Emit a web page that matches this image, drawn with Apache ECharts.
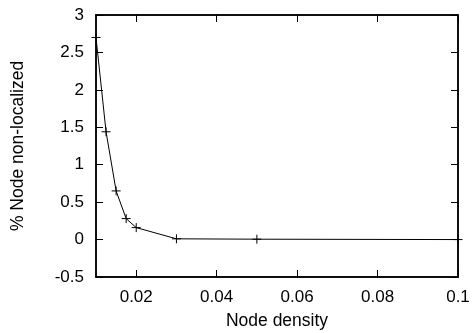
<!DOCTYPE html>
<html><head><meta charset="utf-8">
<script src="https://cdn.jsdelivr.net/npm/echarts@6/dist/echarts.min.js"></script>
<style>html,body{margin:0;padding:0;background:#fff}#c{width:473px;height:333px}</style>
</head><body><div id="c"></div>
<script>
const xValues = [0.01, 0.0125, 0.015, 0.0175, 0.02, 0.03, 0.05, 0.1];
const yValues = [2.70, 1.44, 0.65, 0.28, 0.16, 0.01, 0.005, 0.0];
const xTicks = [0.02, 0.04, 0.06, 0.08, 0.1];
const xName = 'Node density';
const yName = '% Node non-localized';

const chart = echarts.init(document.getElementById('c'), null, {renderer: 'canvas'});
const tickFont = {fontFamily: 'Liberation Sans, Arial, sans-serif', fontSize: 17, color: '#000'};
const nameFont = {fontFamily: 'Liberation Sans, Arial, sans-serif', fontSize: 17.5, color: '#000'};
const axisLine = {show: true, onZero: false, lineStyle: {color: '#000', width: 1.5}};
chart.setOption({
  animation: false,
  grid: {left: 96, top: 15, right: 15, bottom: 56, show: true, borderColor: '#000', borderWidth: 1.5, containLabel: false, outerBoundsMode: 'none'},
  xAxis: [{
    type: 'value', min: 0.01, max: 0.1,
    name: xName, nameLocation: 'middle', nameGap: 35,
    nameTextStyle: nameFont,
    axisLine: axisLine,
    axisTick: {inside: true, length: 7, customValues: xTicks, lineStyle: {color: '#000', width: 1}},
    axisLabel: Object.assign({customValues: xTicks, margin: 12}, tickFont),
    splitLine: {show: false}
  }, {
    type: 'value', min: 0.01, max: 0.1, position: 'top',
    axisLine: axisLine,
    axisTick: {inside: true, length: 7, customValues: xTicks, lineStyle: {color: '#000', width: 1}},
    axisLabel: {show: false}, splitLine: {show: false}
  }],
  yAxis: [{
    type: 'value', min: -0.5, max: 3, interval: 0.5,
    name: yName, nameLocation: 'middle', nameGap: 69,
    nameTextStyle: nameFont,
    axisLine: axisLine,
    axisTick: {inside: true, length: 7, lineStyle: {color: '#000', width: 1}},
    axisLabel: Object.assign({margin: 12}, tickFont),
    splitLine: {show: false}
  }, {
    type: 'value', min: -0.5, max: 3, interval: 0.5, position: 'right',
    axisLine: axisLine,
    axisTick: {inside: true, length: 7, lineStyle: {color: '#000', width: 1}},
    axisLabel: {show: false}, splitLine: {show: false}
  }],
  series: [{
    type: 'line',
    data: xValues.map((x, i) => [x, yValues[i]]),
    symbol: 'path://M0,5L10,5M5,0L5,10',
    symbolSize: 9,
    showAllSymbol: true,
    itemStyle: {color: 'none', borderColor: '#000', borderWidth: 1},
    lineStyle: {color: '#000', width: 1},
    clip: false
  }]
});
</script></body></html>
